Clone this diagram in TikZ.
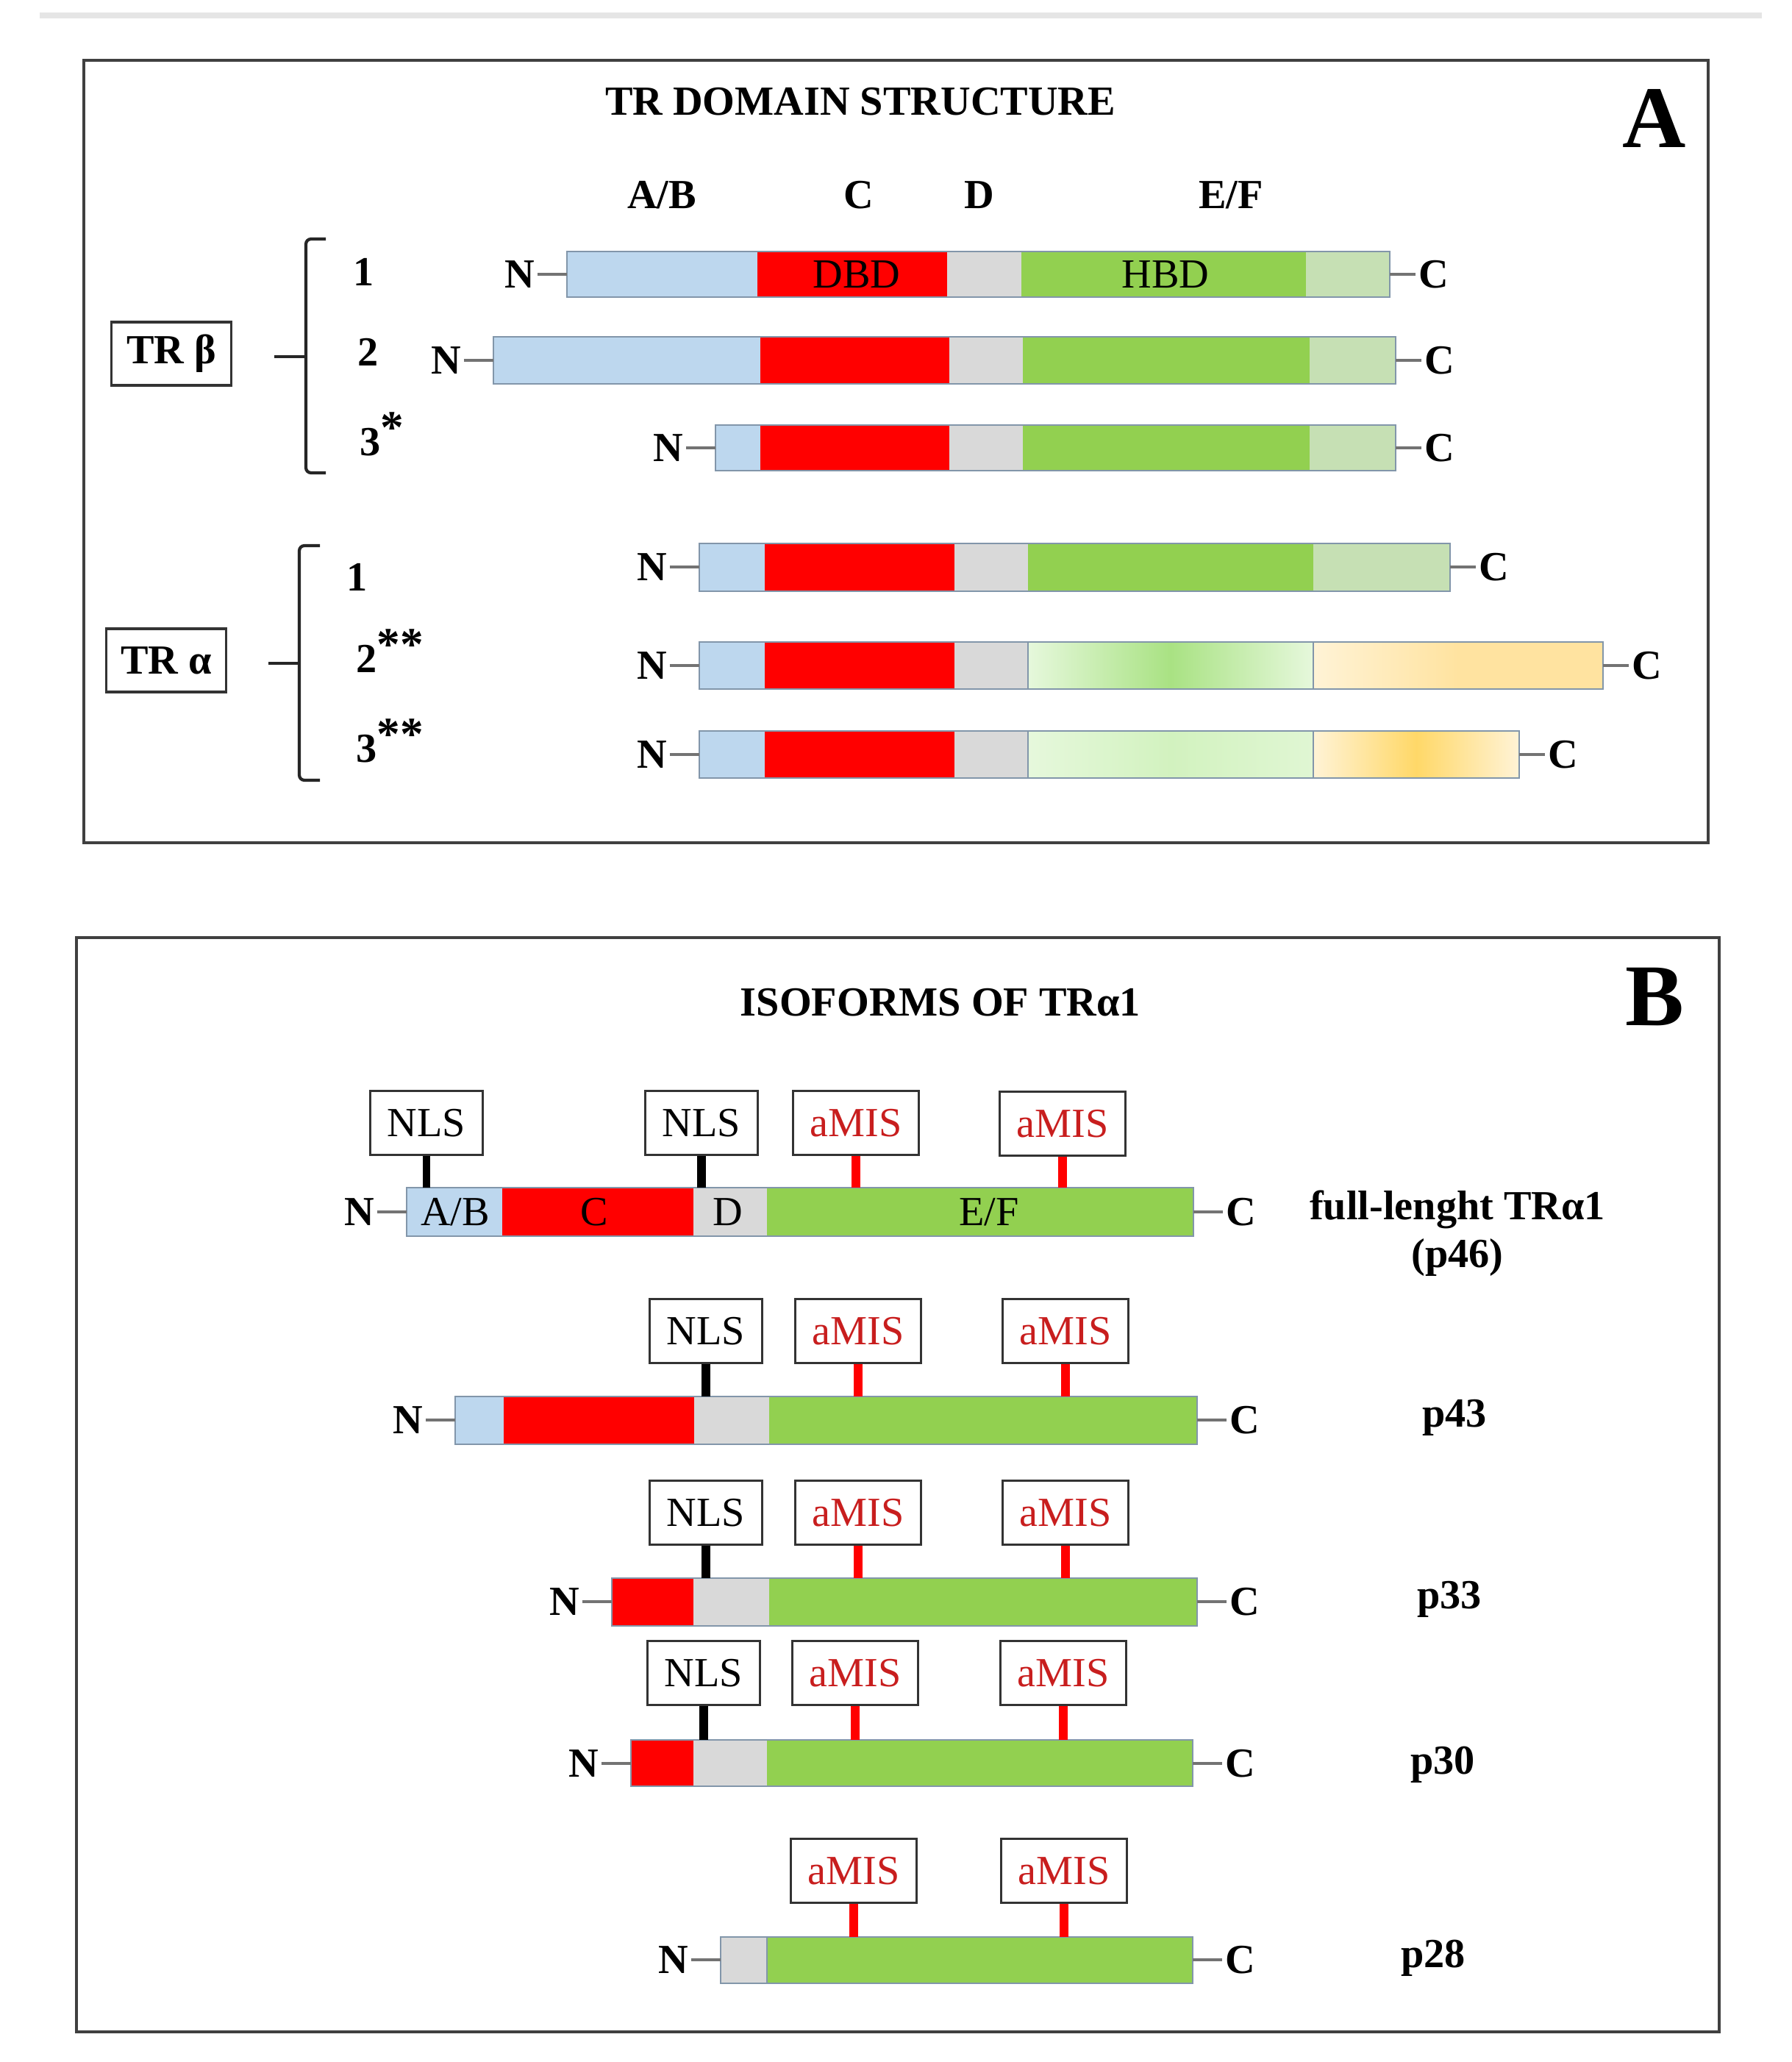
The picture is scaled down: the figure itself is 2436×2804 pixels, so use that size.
\documentclass[tikz,border=0pt]{standalone}
\usepackage{fontspec}
\setmainfont{Liberation Serif}
\usetikzlibrary{positioning}
\definecolor{abblue}{HTML}{BDD7EE}
\definecolor{dbdred}{HTML}{FF0000}
\definecolor{dgrey}{HTML}{D9D9D9}
\definecolor{hbdgreen}{HTML}{92D050}
\definecolor{efgreen}{HTML}{C6E0B4}
\definecolor{barline}{HTML}{8296AA}
\definecolor{amisred}{HTML}{C81E1E}
\definecolor{palegreen}{HTML}{E6F8DC}
\definecolor{midgreen}{HTML}{A9E283}
\definecolor{softgreen}{HTML}{D2F2BF}
\definecolor{paleyel}{HTML}{FFF3D6}
\definecolor{yel}{HTML}{FFE3A0}
\definecolor{deepyel}{HTML}{FFD868}
\newcommand{\stars}[1]{\raisebox{0.3em}{\fontsize{18}{18}\selectfont #1}}
\tikzset{
  frame/.style={draw=black!75, line width=1pt},
  outline/.style={draw=barline, line width=0.6pt},
  tail/.style={draw=black!55, line width=1pt},
  txt/.style={inner sep=1pt, font=\fontsize{16}{19}\selectfont},
  btxt/.style={inner sep=1pt, font=\fontsize{16}{18.5}\selectfont\bfseries},
  heading/.style={font=\fontsize{16}{20}\selectfont\bfseries},
  panel/.style={font=\fontsize{34}{40}\selectfont\bfseries},
  trbox/.style={draw=black!80, line width=1pt, minimum width=1.63cm, minimum height=0.86cm, inner sep=0pt, font=\fontsize{16}{19}\selectfont\bfseries},
  sitebox/.style={draw=black!80, line width=0.8pt, minimum height=0.87cm, inner sep=0pt, font=\fontsize{16}{19}\selectfont},
  nls/.style={sitebox, minimum width=1.53cm},
  amis/.style={sitebox, minimum width=1.71cm, text=amisred},
  nlsstem/.style={draw=black, line width=3.5pt},
  amisstem/.style={draw=dbdred, line width=3.5pt},
  brace/.style={draw=black!85, line width=1.2pt, rounded corners=2pt},
}
\begin{document}
\begin{tikzpicture}[x=0.01cm, y=-0.01cm]
\useasboundingbox (0,0) rectangle (2436,2804);
\draw[black!10, line width=2pt] (54,21) -- (2396,21);

% ===== PANNELLO A
\draw[frame] (114,82) rectangle (2323,1146);
\node[heading] (titA) at (1170,138) {TR DOMAIN STRUCTURE};
\node[panel] (letA) at (2250,161) {A};
\node[btxt] (colAB) at (900,265) {A/B};
\node[btxt] (colC) at (1168,265) {C};
\node[btxt] (colD) at (1332,265) {D};
\node[btxt] (colEF) at (1674,265) {E/F};

% TR beta
\node[trbox] (trb) at (233,481) {TR β};
\draw[brace] (443,325) -- (416,325) -- (416,643) -- (443,643);
\coordinate (btip) at (416,485);
\draw[brace] (btip) -- ++(-43,0);
\node[btxt] (rb1) at (495,370) {1};
\node[btxt] (rb2) at (501,479) {2};
\node[btxt] (rb3) at (519,590) {3\stars{*}};

% beta 1
\foreach \a/\b/\c in {771/1030/abblue, 1030/1288/dbdred, 1288/1389/dgrey, 1389/1776/hbdgreen, 1776/1890/efgreen}
  \fill[\c] (\a,342) rectangle (\b,404);
\draw[outline] (771,342) rectangle (1890,404);
\coordinate (b1s) at (771,373);
\coordinate (b1e) at (1890,373);
\node[btxt, left=0.4cm of b1s] (b1N) {N};
\node[btxt, right=0.35cm of b1e] (b1C) {C};
\draw[tail] (b1N) -- (b1s);
\draw[tail] (b1e) -- (b1C);
\node[txt] (dbd) at (1165,373) {DBD};
\node[txt] (hbd) at (1585,373) {HBD};

% beta 2
\foreach \a/\b/\c in {671/1034/abblue, 1034/1291/dbdred, 1291/1391/dgrey, 1391/1781/hbdgreen, 1781/1898/efgreen}
  \fill[\c] (\a,458) rectangle (\b,522);
\draw[outline] (671,458) rectangle (1898,522);
\coordinate (b2s) at (671,490);
\coordinate (b2e) at (1898,490);
\node[btxt, left=0.4cm of b2s] (b2N) {N};
\node[btxt, right=0.35cm of b2e] (b2C) {C};
\draw[tail] (b2N) -- (b2s);
\draw[tail] (b2e) -- (b2C);

% beta 3
\foreach \a/\b/\c in {973/1034/abblue, 1034/1291/dbdred, 1291/1391/dgrey, 1391/1781/hbdgreen, 1781/1898/efgreen}
  \fill[\c] (\a,578) rectangle (\b,640);
\draw[outline] (973,578) rectangle (1898,640);
\coordinate (b3s) at (973,609);
\coordinate (b3e) at (1898,609);
\node[btxt, left=0.4cm of b3s] (b3N) {N};
\node[btxt, right=0.35cm of b3e] (b3C) {C};
\draw[tail] (b3N) -- (b3s);
\draw[tail] (b3e) -- (b3C);

% TR alfa
\node[trbox] (tra) at (226,898) {TR α};
\draw[brace] (435,742) -- (407,742) -- (407,1061) -- (435,1061);
\coordinate (atip) at (407,902);
\draw[brace] (atip) -- ++(-42,0);
\node[btxt] (ra1) at (486,785) {1};
\node[btxt] (ra2) at (530,885) {2\stars{**}};
\node[btxt] (ra3) at (530,1007) {3\stars{**}};

% alfa 1
\foreach \a/\b/\c in {951/1040/abblue, 1040/1298/dbdred, 1298/1398/dgrey, 1398/1786/hbdgreen, 1786/1972/efgreen}
  \fill[\c] (\a,739) rectangle (\b,804);
\draw[outline] (951,739) rectangle (1972,804);
\coordinate (a1s) at (951,771);
\coordinate (a1e) at (1972,771);
\node[btxt, left=0.4cm of a1s] (a1N) {N};
\node[btxt, right=0.35cm of a1e] (a1C) {C};
\draw[tail] (a1N) -- (a1s);
\draw[tail] (a1e) -- (a1C);

% alfa 2
\foreach \a/\b/\c in {951/1040/abblue, 1040/1298/dbdred, 1298/1398/dgrey}
  \fill[\c] (\a,873) rectangle (\b,937);
\shade[left color=palegreen, right color=palegreen, middle color=midgreen] (1398,873) rectangle (1786,937);
\shade[left color=paleyel, right color=yel, middle color=yel] (1786,873) rectangle (2180,937);
\draw[outline] (951,873) rectangle (2180,937);
\draw[outline] (1398,873) -- (1398,937) (1786,873) -- (1786,937);
\coordinate (a2s) at (951,905);
\coordinate (a2e) at (2180,905);
\node[btxt, left=0.4cm of a2s] (a2N) {N};
\node[btxt, right=0.35cm of a2e] (a2C) {C};
\draw[tail] (a2N) -- (a2s);
\draw[tail] (a2e) -- (a2C);

% alfa 3
\foreach \a/\b/\c in {951/1040/abblue, 1040/1298/dbdred, 1298/1398/dgrey}
  \fill[\c] (\a,994) rectangle (\b,1058);
\shade[left color=palegreen, right color=palegreen!70!softgreen, middle color=softgreen] (1398,994) rectangle (1786,1058);
\shade[left color=paleyel, right color=paleyel, middle color=deepyel] (1786,994) rectangle (2066,1058);
\draw[outline] (951,994) rectangle (2066,1058);
\draw[outline] (1398,994) -- (1398,1058) (1786,994) -- (1786,1058);
\coordinate (a3s) at (951,1026);
\coordinate (a3e) at (2066,1026);
\node[btxt, left=0.4cm of a3s] (a3N) {N};
\node[btxt, right=0.35cm of a3e] (a3C) {C};
\draw[tail] (a3N) -- (a3s);
\draw[tail] (a3e) -- (a3C);

% ===== PANNELLO B
\draw[frame] (104,1275) rectangle (2338,2763);
\node[heading] (titB) at (1279,1363) {ISOFORMS OF TRα1};
\node[panel] (letB) at (2250,1356) {B};

% p46
\foreach \a/\b/\c in {553/683/abblue, 683/943/dbdred, 943/1043/dgrey, 1043/1623/hbdgreen}
  \fill[\c] (\a,1615) rectangle (\b,1681);
\draw[outline] (553,1615) rectangle (1623,1681);
\coordinate (r1s) at (553,1648);
\coordinate (r1e) at (1623,1648);
\coordinate (r1top) at (0,1615);
\node[btxt, left=0.4cm of r1s] (r1N) {N};
\node[btxt, right=0.4cm of r1e] (r1C) {C};
\draw[tail] (r1N) -- (r1s);
\draw[tail] (r1e) -- (r1C);
\node[txt] (r1ab) at (619,1648) {A/B};
\node[txt] (r1c) at (808,1648) {C};
\node[txt] (r1d) at (990,1648) {D};
\node[txt] (r1ef) at (1345,1648) {E/F};
\node[nls] (r1n1) at (580,1527) {NLS};
\node[nls] (r1n2) at (954,1527) {NLS};
\node[amis] (r1m1) at (1164,1527) {aMIS};
\node[amis] (r1m2) at (1445,1528) {aMIS};
\draw[nlsstem, line width=2.8pt] (r1n1.south) -- (r1n1.south |- r1top);
\draw[nlsstem] (r1n2.south) -- (r1n2.south |- r1top);
\draw[amisstem] (r1m1.south) -- (r1m1.south |- r1top);
\draw[amisstem] (r1m2.south) -- (r1m2.south |- r1top);
\node[btxt, align=center] (p46) at (1982,1677) {full-lenght TRα1\\(p46)};

% p43
\foreach \a/\b/\c in {619/685/abblue, 685/944/dbdred, 944/1046/dgrey, 1046/1628/hbdgreen}
  \fill[\c] (\a,1899) rectangle (\b,1964);
\draw[outline] (619,1899) rectangle (1628,1964);
\coordinate (r2s) at (619,1931);
\coordinate (r2e) at (1628,1931);
\coordinate (r2top) at (0,1899);
\node[btxt, left=0.4cm of r2s] (r2N) {N};
\node[btxt, right=0.4cm of r2e] (r2C) {C};
\draw[tail] (r2N) -- (r2s);
\draw[tail] (r2e) -- (r2C);
\node[nls] (r2n) at (960,1810) {NLS};
\node[amis] (r2m1) at (1167,1810) {aMIS};
\node[amis] (r2m2) at (1449,1810) {aMIS};
\draw[nlsstem] (r2n.south) -- (r2n.south |- r2top);
\draw[amisstem] (r2m1.south) -- (r2m1.south |- r2top);
\draw[amisstem] (r2m2.south) -- (r2m2.south |- r2top);
\node[btxt] (p43) at (1978,1928) {p43};

% p33
\foreach \a/\b/\c in {832/943/dbdred, 943/1046/dgrey, 1046/1628/hbdgreen}
  \fill[\c] (\a,2146) rectangle (\b,2211);
\draw[outline] (832,2146) rectangle (1628,2211);
\coordinate (r3s) at (832,2178);
\coordinate (r3e) at (1628,2178);
\coordinate (r3top) at (0,2146);
\node[btxt, left=0.4cm of r3s] (r3N) {N};
\node[btxt, right=0.4cm of r3e] (r3C) {C};
\draw[tail] (r3N) -- (r3s);
\draw[tail] (r3e) -- (r3C);
\node[nls] (r3n) at (960,2057) {NLS};
\node[amis] (r3m1) at (1167,2057) {aMIS};
\node[amis] (r3m2) at (1449,2057) {aMIS};
\draw[nlsstem] (r3n.south) -- (r3n.south |- r3top);
\draw[amisstem] (r3m1.south) -- (r3m1.south |- r3top);
\draw[amisstem] (r3m2.south) -- (r3m2.south |- r3top);
\node[btxt] (p33) at (1971,2175) {p33};

% p30
\foreach \a/\b/\c in {858/943/dbdred, 943/1043/dgrey, 1043/1622/hbdgreen}
  \fill[\c] (\a,2366) rectangle (\b,2429);
\draw[outline] (858,2366) rectangle (1622,2429);
\coordinate (r4s) at (858,2398);
\coordinate (r4e) at (1622,2398);
\coordinate (r4top) at (0,2366);
\node[btxt, left=0.4cm of r4s] (r4N) {N};
\node[btxt, right=0.4cm of r4e] (r4C) {C};
\draw[tail] (r4N) -- (r4s);
\draw[tail] (r4e) -- (r4C);
\node[nls] (r4n) at (957,2275) {NLS};
\node[amis] (r4m1) at (1163,2275) {aMIS};
\node[amis] (r4m2) at (1446,2275) {aMIS};
\draw[nlsstem] (r4n.south) -- (r4n.south |- r4top);
\draw[amisstem] (r4m1.south) -- (r4m1.south |- r4top);
\draw[amisstem] (r4m2.south) -- (r4m2.south |- r4top);
\node[btxt] (p30) at (1962,2400) {p30};

% p28
\foreach \a/\b/\c in {980/1043/dgrey, 1043/1622/hbdgreen}
  \fill[\c] (\a,2634) rectangle (\b,2697);
\draw[outline] (980,2634) rectangle (1622,2697);
\draw[outline] (1043,2634) -- (1043,2697);
\coordinate (r5s) at (980,2665);
\coordinate (r5e) at (1622,2665);
\coordinate (r5top) at (0,2634);
\node[btxt, left=0.4cm of r5s] (r5N) {N};
\node[btxt, right=0.4cm of r5e] (r5C) {C};
\draw[tail] (r5N) -- (r5s);
\draw[tail] (r5e) -- (r5C);
\node[amis] (r5m1) at (1161,2544) {aMIS};
\node[amis] (r5m2) at (1447,2544) {aMIS};
\draw[amisstem] (r5m1.south) -- (r5m1.south |- r5top);
\draw[amisstem] (r5m2.south) -- (r5m2.south |- r5top);
\node[btxt] (p28) at (1949,2663) {p28};
\end{tikzpicture}
\end{document}
